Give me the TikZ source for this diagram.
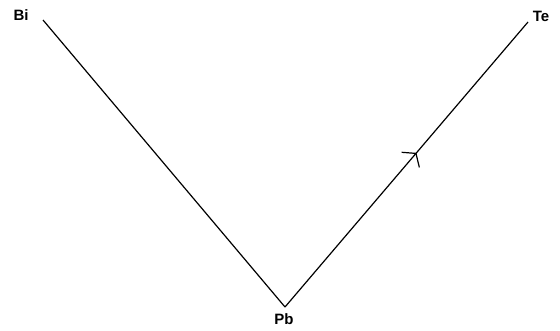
\documentclass[tikz,border=0pt]{standalone}
\usepackage{fontspec}
\setmainfont{Liberation Sans}
\usetikzlibrary{decorations.markings}
\begin{document}
\begin{tikzpicture}[x=1pt,y=-1pt,
  lbl/.style={font=\bfseries\fontsize{15}{17}\selectfont, inner sep=0pt},
  bond/.style={line width=1.2pt},
  midarrow/.style={postaction={decorate,decoration={markings,
    mark=at position #1 with {\draw[line width=1.2pt] (-8.5pt,11.7pt) -- (0,0) -- (-8.5pt,-11.7pt);}}}}]
\useasboundingbox (0,0) rectangle (560,330);
\node[lbl] (bi) at (21,15) {Bi};
\node[lbl] (te) at (541,16) {Te};
\node[lbl] (pb) at (284,319) {Pb};
\coordinate (bie) at (43,20);
\coordinate (v) at (285,307);
\coordinate (tee) at (528,22);
\draw[bond] (bie) -- (v);
\draw[bond, midarrow=0.539] (v) -- (tee);
\end{tikzpicture}
\end{document}
